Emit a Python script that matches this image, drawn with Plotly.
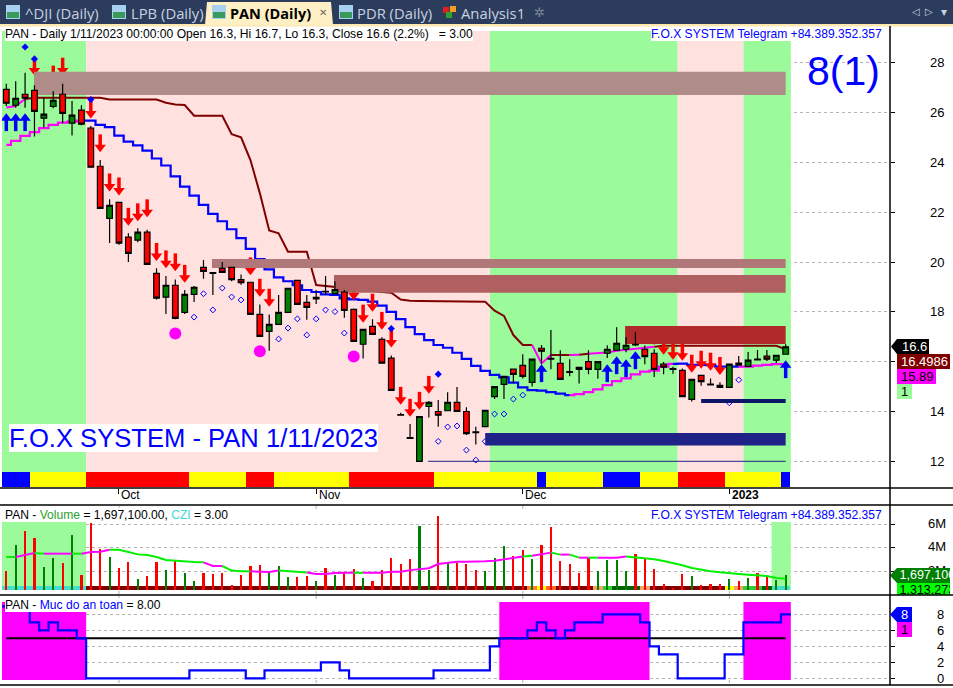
import plotly.graph_objects as go

W, H = 953, 688
n = 84
idx = list(range(n))

opens = [26.94,26.30,26.74,26.90,25.78,26.25,26.74,25.58,26.10,25.38,23.85,21.76,22.40,21.00,20.88,21.20,19.55,18.59,19.07,17.98,18.70,19.79,19.58,19.75,19.79,19.30,19.19,17.90,17.22,17.50,17.98,19.27,18.38,18.52,18.83,18.73,18.80,18.10,16.70,17.42,16.90,16.14,13.88,12.95,12.00,14.20,14.00,14.03,14.37,14.00,13.18,13.39,14.60,15.09,15.70,15.85,15.17,16.54,16.13,15.93,15.60,15.77,16.00,15.69,16.34,16.46,16.50,16.70,16.50,16.34,15.90,15.72,15.65,14.49,15.45,15.10,15.05,14.97,15.94,15.81,16.10,16.22,16.06,16.30]
highs = [27.16,27.26,27.60,27.10,26.60,26.86,27.16,26.47,26.30,25.47,24.10,22.52,22.40,21.16,21.36,21.30,19.75,19.44,19.30,18.88,19.04,20.08,19.58,20.00,19.79,19.50,19.19,18.30,17.90,18.68,18.95,19.27,18.68,18.88,19.44,19.23,18.88,18.14,17.30,17.70,16.98,16.25,13.95,13.50,13.80,14.42,14.46,14.77,14.98,14.17,13.39,14.05,15.00,15.41,15.70,16.30,16.10,16.67,17.27,16.46,16.10,15.77,16.46,16.00,16.66,17.38,16.98,17.18,16.65,16.50,15.99,15.80,15.73,15.29,15.45,15.33,15.17,15.90,16.23,16.39,16.47,16.47,16.26,16.70]
lows = [26.27,26.20,26.20,25.04,25.40,26.18,25.58,25.08,25.50,23.80,22.15,20.77,20.70,20.00,20.80,19.90,18.50,17.92,17.70,17.92,18.40,19.33,18.68,19.59,19.23,19.09,17.90,17.00,16.44,17.50,17.98,18.30,17.68,18.32,18.68,18.73,17.77,16.80,16.13,17.10,15.94,14.85,13.85,12.92,12.00,13.76,13.39,14.03,14.00,13.06,12.67,13.39,14.50,14.50,15.13,15.33,15.00,15.93,15.70,15.29,15.42,15.12,15.50,15.32,16.15,16.46,16.38,16.63,15.90,15.39,15.50,15.52,14.60,14.40,15.03,15.07,14.97,14.97,15.86,15.81,16.07,16.03,15.94,16.30]
closes = [26.38,26.58,26.58,26.05,25.94,26.50,25.97,25.90,25.54,23.81,22.16,22.28,20.76,20.35,21.20,19.91,18.55,19.07,17.74,18.70,18.99,19.63,19.55,19.59,19.30,19.17,17.90,17.02,17.50,17.98,18.95,18.30,18.18,18.58,18.80,18.90,18.06,16.82,17.30,17.10,15.94,14.85,13.85,12.92,13.80,14.37,13.85,14.37,14.00,13.11,13.15,14.05,15.00,15.41,15.49,15.41,16.10,16.42,16.10,15.29,15.57,15.69,15.69,16.00,16.50,16.74,16.66,16.67,16.20,15.69,15.78,15.69,14.60,15.29,15.20,15.07,14.97,15.90,15.86,16.06,16.07,16.10,16.26,16.60]

trail_lower = [24.71,24.87,25.07,25.22,25.38,25.51,25.60,25.64,25.68,25.68,25.51,25.42,25.08,24.84,24.69,24.48,24.16,23.88,23.44,23.03,22.67,22.30,21.94,21.64,21.32,20.96,20.53,20.12,19.71,19.39,19.23,19.07,18.88,18.80,18.70,18.68,18.54,18.50,18.48,18.41,18.25,18.00,17.71,17.39,17.11,16.87,16.67,16.56,16.36,16.11,15.83,15.63,15.47,15.37,15.16,14.97,14.86,14.84,14.78,14.72,14.66,14.70,14.78,14.89,15.06,15.22,15.33,15.49,15.60,15.64,15.80,15.91,15.92,15.87,15.87,15.86,15.80,15.80,15.80,15.80,15.84,15.87,15.90,15.89]
lower_magenta = [i <= 8 or 61 <= i <= 71 or i >= 79 for i in idx]

trail_upper = [26.21,26.27,26.55,26.60,26.60,26.60,26.60,26.60,26.60,26.60,26.60,26.53,26.53,26.53,26.53,26.53,26.53,26.40,26.33,26.31,25.88,25.88,25.88,25.88,25.14,25.01,24.10,22.77,21.27,21.16,20.42,20.42,20.42,19.08,19.04,19.01,18.98,18.95,18.90,18.85,18.80,18.77,18.50,18.45,18.44,18.44,18.44,18.44,18.44,18.41,18.41,18.41,18.05,17.84,17.07,16.67,16.67,15.93,16.27,16.27,16.27,16.28,16.32,16.33,16.37,16.44,16.49,16.54,16.56,16.60,16.64,16.64,16.64,16.64,16.64,16.64,16.64,16.64,16.64,16.64,16.64,16.64,16.64,16.50]
upper_magenta = [i in (1, 2, 57, 58, 61, 63, 64, 65, 66, 67, 68, 69) for i in idx]

down_x = [3,5,6,9,10,11,12,13,14,15,16,17,18,19,26,27,28,37,38,39,40,41,42,43,44,45,69,70,71,72,73,74,75,76]
down_tip = [27.52,27.20,27.52,25.80,24.44,22.87,22.71,21.49,21.67,21.83,20.08,19.78,19.66,19.20,19.50,18.64,18.24,18.50,17.60,18.04,17.31,16.60,14.30,13.82,14.10,14.74,16.70,16.31,16.11,16.07,15.59,15.75,15.67,15.50]
up_x = [0,1,2,57,64,65,66,67,83]
up_tip = [25.95,25.95,25.95,15.87,15.87,16.19,16.07,16.39,16.03]
solid_x = [2,3,9,41,46]
solid_y = [28.64,28.16,26.53,17.33,15.50]
hollow_x = [20,21,22,23,24,25,29,30,31,32,33,34,35,36,46,47,48,49,50,51,52,53,54,55,77,78]
hollow_y = [17.79,18.73,18.08,18.96,18.60,18.48,16.91,17.35,17.72,17.07,17.72,18.08,18.01,17.15,12.80,13.38,13.42,12.45,12.05,12.80,13.90,13.90,14.50,14.66,14.35,15.27]
dot_x = [18,27,37]
dot_y = [17.13,16.42,16.21]

zone_start = [2.95,21.9,34.9,65.9,51.0,74.0]
zone_end = [83.0,83.0,83.0,83.0,83.0,83.0]
zone_low = [26.71,19.76,18.77,16.71,12.63,14.34]
zone_high = [27.64,20.12,19.48,17.43,13.14,14.50]
zone_color = ["#b08c88","#b07878","#b06060","#b02a2a","#1f2388","#0d1566"]
floor_start, floor_level = 44.9, 12.0

band_edges = [-0.46,8.5,51.5,71.5,78.5,83.55]
band_color = ["#9bfb9b","#ffe2df","#9bfb9b","#ffe2df","#9bfb9b"]

strip_runs = [("#0000ff",3),("#ffff00",6),("#ff0000",11),("#ffff00",6),("#ff0000",3),("#ffff00",8),("#ff0000",9),("#ffff00",11),("#0000ff",1),("#ffff00",6),("#0000ff",4),("#ffff00",4),("#ff0000",5),("#ffff00",6),("#0000ff",1)]
strip_color = [c for c, k in strip_runs for _ in range(k)]

volume = [2.03,4.24,5.43,4.83,2.36,3.13,2.71,5.09,1.69,6.11,3.90,3.22,2.28,2.79,1.34,1.60,2.79,2.11,2.88,1.86,1.18,1.86,1.77,1.86,0.84,1.69,2.45,2.54,2.03,2.45,1.51,1.51,1.60,1.18,2.28,1.69,1.94,2.20,1.43,1.18,2.11,3.13,2.62,3.04,5.85,2.11,6.70,2.71,2.71,2.62,2.11,2.03,3.13,4.15,3.30,3.81,3.04,4.24,5.77,2.88,2.62,1.86,3.13,2.03,2.96,2.96,2.03,3.47,3.13,2.20,0.93,0.57,1.77,1.60,0.84,0.93,0.93,1.34,1.18,1.43,1.86,1.51,1.26,1.70]
vol_ma = [3.22,3.22,3.37,3.56,3.50,3.50,3.50,3.50,3.50,3.64,3.67,3.84,3.84,3.64,3.44,3.38,3.22,2.97,2.90,2.82,2.79,2.76,2.45,2.45,2.06,2.00,2.00,1.97,1.94,2.06,2.00,1.94,1.89,1.77,1.77,1.86,1.87,1.87,1.87,1.87,1.87,1.97,1.97,2.10,2.20,2.26,2.62,2.74,2.82,2.82,2.82,2.85,2.90,3.02,3.19,3.25,3.33,3.44,3.59,3.42,3.42,3.16,3.16,3.16,3.16,3.16,3.25,3.19,3.08,3.02,2.88,2.71,2.51,2.28,2.11,2.00,1.91,1.82,1.77,1.71,1.65,1.60,1.43,1.37]
vol_ma_magenta = [i in (2,3,5,6,7,9,10,11,22,23,27,28,29,33,34,35,36,37,39,40,41,42,43,44,45,46,47,48,49,50,51,52,53,54,55,57,58,60,62,64,65,66) for i in idx]
czi_runs = [("#40e0d0",9),("#800000",47),("#ff7f27",1),("#ffff00",1),("#ff6a20",1),("#800000",4),("#f4a460",1),("#32cd32",1),("#006400",3),("#f4a460",1),("#800000",8),("#ffff00",1),("#f4a460",1),("#32cd32",2),("#006400",1),("#40e0d0",2)]
czi_color = [c for c, k in czi_runs for _ in range(k)]
vol_band_edges = [(-0.46,8.5),(81.5,83.55)]

safety = [9,9,9,7,6,7,6,6,5,0,0,0,0,0,0,0,0,0,0,0,1,1,1,1,1,1,0,0,1,1,1,1,1,1,2,2,1,0,0,0,0,0,0,0,0,0,1,1,1,1,1,1,4,5,5,5,6,7,6,5,6,7,7,7,8,8,8,8,7,4,3,3,0,0,0,0,0,3,3,7,7,7,7,8]
safety_bands = [(-0.46,8.5),(52.5,68.5),(78.5,83.55)]
safe_level = 5

month_idx = [12,33,55,77]
month_text = ["Oct","Nov","Dec","<b>2023</b>"]
price_ticks = [12,14,16,18,20,22,24,26,28]
price_labels = [12,14,18,20,22,24,26,28]
vol_ticks = [2,4,6]
safe_ticks = [0,2,4,6,8]
BLUE, MAG, MAROON = "#0000ff", "#ff00ff", "#800000"
FONT = "Liberation Sans"

def px(x): return x / W
def py(y): return 1 - y / H
def price_at(y): return 12 + (461.3 - y) / 24.9
def vol_at(y): return (594.8 - y) / 11.75
def safe_at(y): return (678.3 - y) / 8
def bar_at(x): return (x - 6.3) / 9.39

def split(values, flags, want):
    xs, ys = [], []
    for i in range(len(values) - 1):
        if flags[i + 1] == want:
            if xs and xs[-1] == i:
                xs.append(i + 1); ys.append(values[i + 1])
            else:
                if xs:
                    xs.append(None); ys.append(None)
                xs += [i, i + 1]; ys += [values[i], values[i + 1]]
    return xs, ys

fig = go.Figure()
shapes, anns = [], []

# price pane: regime bands
for i, c in enumerate(band_color):
    shapes.append(dict(type="rect", xref="x", yref="y", layer="between", x0=band_edges[i], x1=band_edges[i + 1],
                       y0=price_at(472), y1=price_at(31), fillcolor=c, line_width=0))
fig.add_bar(x=idx, y=[price_at(472) - price_at(487)] * n, base=[price_at(487)] * n, width=1,
            marker=dict(color=strip_color, line_width=0), xaxis="x", yaxis="y", showlegend=False)

for values, flags, main, shape, w in [(trail_upper, upper_magenta, MAROON, "linear", 2), (trail_lower, lower_magenta, BLUE, "hvh", 2.2)]:
    x0, y0 = split(values, flags, False)
    fig.add_scatter(x=x0, y=y0, mode="lines", line=dict(color=main, width=w, shape=shape), xaxis="x", yaxis="y", showlegend=False)
    x1, y1 = split(values, flags, True)
    fig.add_scatter(x=x1, y=y1, mode="lines", line=dict(color=MAG, width=w, shape=shape), xaxis="x", yaxis="y", showlegend=False)

def arrows(xs, tips, color, sign):
    head = [t + sign * 0.17 for t in tips]
    stem = [t + sign * 0.38 for t in tips]
    tri = "triangle-down" if sign > 0 else "triangle-up"
    fig.add_scatter(x=xs, y=stem, mode="markers", xaxis="x", yaxis="y", showlegend=False,
                    marker=dict(symbol="line-ns", size=11, color=color, line=dict(color=color, width=3.5)))
    fig.add_scatter(x=xs, y=head, mode="markers", xaxis="x", yaxis="y", showlegend=False,
                    marker=dict(symbol=tri, size=10, color=color, line_width=0))

arrows(down_x, down_tip, "#ff0000", 1)
arrows(up_x, up_tip, BLUE, -1)
fig.add_scatter(x=solid_x, y=solid_y, mode="markers", marker=dict(symbol="diamond", size=5.5, color=BLUE, line_width=0), xaxis="x", yaxis="y", showlegend=False)
fig.add_scatter(x=hollow_x, y=hollow_y, mode="markers", marker=dict(symbol="diamond-open", size=4.5, color=BLUE, line=dict(width=1, color=BLUE)), xaxis="x", yaxis="y", showlegend=False)
fig.add_scatter(x=dot_x, y=dot_y, mode="markers", marker=dict(symbol="circle", size=12, color=MAG, line_width=0), xaxis="x", yaxis="y", showlegend=False)
fig.add_scatter(x=[44.06], y=[price_at(491)], mode="markers", cliponaxis=False, marker=dict(symbol="triangle-down", size=7, color="#ff0000", line_width=0), xaxis="x", yaxis="y", showlegend=False)

for s, e, lo, hi, c in zip(zone_start, zone_end, zone_low, zone_high, zone_color):
    fig.add_scatter(x=[s, e, e, s, s], y=[lo, lo, hi, hi, lo], mode="lines", fill="toself", fillcolor=c, line=dict(width=0, color=c),
                    xaxis="x", yaxis="y", showlegend=False)
fig.add_scatter(x=[floor_start, 83], y=[floor_level, floor_level], mode="lines", line=dict(color="#1f2388", width=1), xaxis="x", yaxis="y", showlegend=False)

fig.add_trace(go.Candlestick(x=idx, open=opens, high=highs, low=lows, close=closes, xaxis="x", yaxis="y4", showlegend=False,
                             whiskerwidth=0,
                             increasing=dict(fillcolor="#008000", line=dict(color="#000000", width=1.2)),
                             decreasing=dict(fillcolor="#ff0000", line=dict(color="#000000", width=1.2))))

# volume pane
for a, b in vol_band_edges:
    shapes.append(dict(type="rect", xref="x2", yref="y2", layer="between", x0=a, x1=b, y0=vol_at(590), y1=vol_at(521.7), fillcolor="#9bfb9b", line_width=0))
fig.add_bar(x=idx, y=[vol_at(586) - vol_at(590)] * n, base=[vol_at(590)] * n, width=1, marker=dict(color=czi_color, line_width=0), xaxis="x2", yaxis="y2", showlegend=False)
vol_color = ["#ff0000" if c < o else "#008000" for o, c in zip(opens, closes)]
fig.add_bar(x=idx, y=[v - vol_at(590) for v in volume], base=[vol_at(590)] * n, width=0.23, marker=dict(color=vol_color, line_width=0), xaxis="x2", yaxis="y2", showlegend=False)
x0, y0 = split(vol_ma, vol_ma_magenta, False)
fig.add_scatter(x=x0, y=y0, mode="lines", line=dict(color="#00f000", width=2), xaxis="x2", yaxis="y2", showlegend=False)
x1, y1 = split(vol_ma, vol_ma_magenta, True)
fig.add_scatter(x=x1, y=y1, mode="lines", line=dict(color=MAG, width=2), xaxis="x2", yaxis="y2", showlegend=False)

# safety pane
for a, b in safety_bands:
    shapes.append(dict(type="rect", xref="x3", yref="y3", layer="between", x0=a, x1=b, y0=safe_at(680), y1=safe_at(602), fillcolor=MAG, line_width=0))
fig.add_scatter(x=[0, 83], y=[safe_level, safe_level], mode="lines", line=dict(color="#000000", width=2), xaxis="x3", yaxis="y3", showlegend=False)
fig.add_scatter(x=[-0.46] + idx + [83.55], y=[safety[0]] + safety + [safety[-1]], mode="lines", line=dict(color=BLUE, width=2.2, shape="hvh"), xaxis="x3", yaxis="y3", showlegend=False)

# right-hand tag strip of the volume pane (clipped like the original)
fig.add_scatter(x=[56] * len(vol_ticks), y=vol_ticks, mode="text", text=[f"{t}M" for t in vol_ticks], textposition="middle left",
                textfont=dict(family=FONT, size=13, color="#000000"), xaxis="x5", yaxis="y5", showlegend=False)
fig.add_scatter(x=[0, 7, 60, 60, 7, 0], y=[vol_at(575.5), vol_at(568), vol_at(568), vol_at(583), vol_at(583), vol_at(575.5)], mode="lines", fill="toself",
                fillcolor="#008000", line=dict(width=0, color="#008000"), xaxis="x5", yaxis="y5", showlegend=False)
fig.add_scatter(x=[7, 60, 60, 7, 7], y=[vol_at(583), vol_at(583), vol_at(596), vol_at(596), vol_at(583)], mode="lines", fill="toself",
                fillcolor="#00ff00", line=dict(width=0, color="#00ff00"), xaxis="x5", yaxis="y5", showlegend=False)
fig.add_scatter(x=[9.5, 9.5], y=[vol_at(575.5), vol_at(590.5)], mode="text", text=["1,697,100", "1,313,273"], textposition="middle right",
                textfont=dict(family=FONT, size=12.5, color=["#ffffff", "#000000"]), xaxis="x5", yaxis="y5", showlegend=False)

def rect(x0, y0, x1, y1, color, layer="above"):
    shapes.append(dict(type="rect", xref="paper", yref="paper", x0=px(x0), x1=px(x1), y0=py(y0), y1=py(y1), fillcolor=color, line_width=0, layer=layer))

def line(x0, y0, x1, y1, color="#000000", w=1.5, dash=None):
    shapes.append(dict(type="line", xref="paper", yref="paper", x0=px(x0), x1=px(x1), y0=py(y0), y1=py(y1), line=dict(color=color, width=w, dash=dash)))

def tag(x0, xb, x1, y0, y1, color):
    m = (y0 + y1) / 2
    path = f"M {px(x0)} {py(m)} L {px(xb)} {py(y0)} L {px(x1)} {py(y0)} L {px(x1)} {py(y1)} L {px(xb)} {py(y1)} Z"
    shapes.append(dict(type="path", xref="paper", yref="paper", path=path, fillcolor=color, line_width=0))

def text(t, x, y, size=12.1, color="#000000", bg=None, anchor="left", family=FONT):
    anns.append(dict(text=t, xref="paper", yref="paper", x=px(x), y=py(y), xanchor=anchor, yanchor="middle", showarrow=False,
                     font=dict(family=family, size=size, color=color), bgcolor=bg, borderpad=0, borderwidth=0))

# tab bar
rect(0, 0, W, 24, "#2c3c5c")
rect(0, 24, W, 26.5, "#ffe8b0")
shapes.append(dict(type="path", xref="paper", yref="paper", fillcolor="#ffefc4", line_width=0,
                   path=f"M {px(205)} {py(25)} L {px(207)} {py(2)} L {px(331)} {py(2)} L {px(333)} {py(25)} Z"))
for ix in [6, 112, 212, 339]:
    rect(ix, 5, ix + 14, 19, "#a8d0f0")
    rect(ix + 1, 12, ix + 13, 18, "#3a9a5a")
tab_font = "Open Sans"
for t, x in [("^DJI (Daily)", 25), ("LPB (Daily)", 131), ("PDR (Daily)", 357), ("Analysis1", 461)]:
    text(t, x, 13, 14.8, "#c8d2e0", family=tab_font)
text("<b>PAN (Daily)</b>", 230, 13, 14.5, "#000000", family=tab_font)
text("✕", 323, 12, 10, "#6a6a60", anchor="center", family="DejaVu Sans")
text("✲", 539, 12, 13, "#7f8a9c", anchor="center", family="DejaVu Sans")
text("◁", 916, 11, 10, "#c8d2e0", anchor="center", family="DejaVu Sans")
text("▷", 929, 11, 10, "#c8d2e0", anchor="center", family="DejaVu Sans")
text("▾", 944, 12, 12, "#c8d2e0", anchor="center", family="DejaVu Sans")
for cx, cy, c in [(446, 10, "#e02020"), (453, 9, "#f0a020"), (449, 15, "#30a030")]:
    rect(cx - 3, cy - 3, cx + 3, cy + 3, c)

# frames
for y in (488, 505, 595, 685):
    line(0, y, W, y)
line(890, 26, 890, 685)
for m in month_idx:
    xm = 6.3 + 9.39 * m
    for a, b in ((591, 595), (596, 601), (680, 685), (506, 512)):
        line(xm, a, xm, b, "#b0b0b0", 1, "dot")

# pane captions
text("PAN - Daily 1/11/2023 00:00:00 Open 16.3, Hi 16.7, Lo 16.3, Close 16.6 (2.2%)&nbsp;&nbsp;&nbsp;= 3.00", 5, 33.5, bg="#ffffff")
tele = "F.O.X SYSTEM Telegram +84.389.352.357"
text(tele, 651, 33.5, color=BLUE, bg="#ffffff")
text(tele, 651, 514.5, color=BLUE, bg="#ffffff")
text('PAN - <span style="color:#2ca02c">Volume</span> = 1,697,100.00, <span style="color:#40d8d8">CZI</span> = 3.00', 5, 514.5, bg="#ffffff")
text('PAN - <span style="color:#0000ff">Muc do an toan</span> = 8.00', 5, 605, bg="#ffffff")
text("F.O.X SYSTEM - PAN 1/11/2023", 9, 438, 25.6, BLUE, "#ffffff")
text("8(1)", 807, 71, 41, BLUE)

# month labels
for m, t in zip(month_idx, month_text):
    anns.append(dict(text=t, xref="x", yref="paper", x=m + 0.05, y=py(495), xanchor="left", yanchor="middle", showarrow=False, font=dict(family=FONT, size=12, color="#000000")))

# axis labels
for t in price_labels:
    anns.append(dict(text=str(t), xref="paper", yref="y", x=px(946), y=t, xanchor="right", yanchor="middle", showarrow=False, font=dict(family=FONT, size=13, color="#000000")))
for t in safe_ticks:
    anns.append(dict(text=str(t), xref="paper", yref="y3", x=px(946), y=t, xanchor="right", yanchor="middle", showarrow=False, font=dict(family=FONT, size=13, color="#000000")))

# value tags
tag(891, 897, 929, 339, 354, "#000000")
rect(897, 354, 950, 369, MAROON)
rect(897, 369, 936, 384, MAG)
rect(897, 384, 912, 399, "#9bfb9b")
text("16.6", 902, 346.5, 13, "#ffffff")
text("16.4986", 901, 361.5, 13, "#ffffff")
text("15.89", 901, 376.5, 13, "#000000")
text("1", 901, 391.5, 13, "#000000")
tag(890, 897, 912, 607, 622, BLUE)
rect(897, 622, 912, 637, MAG)
text("8", 901, 614.5, 13, "#ffffff")
text("1", 901, 629.5, 13, "#000000")

xr = [bar_at(2), bar_at(890)]
grid = dict(showgrid=True, griddash="dot", gridcolor="#b4b4b4", gridwidth=1, zeroline=False, showline=False,
            ticks="outside", ticklen=4, tickcolor="#000000", tickwidth=1, showticklabels=False, side="right", fixedrange=True)
xbase = dict(domain=[px(2), px(890)], range=xr, showgrid=False, zeroline=False, showline=False, showticklabels=False, fixedrange=True, rangeslider=dict(visible=False))
fig.update_layout(
    width=W, height=H, autosize=False, margin=dict(l=0, r=0, t=0, b=0), paper_bgcolor="#ffffff", plot_bgcolor="#ffffff",
    barmode="overlay", bargap=0, boxgap=0.2, boxgroupgap=0.25, showlegend=False, hovermode=False,
    xaxis=dict(xbase, anchor="y", ticks="outside", ticklen=5, tickcolor="#000000", tickvals=month_idx),
    xaxis2=dict(xbase, anchor="y2", ticks=""),
    xaxis3=dict(xbase, anchor="y3", ticks=""),
    xaxis5=dict(domain=[px(890), px(950)], range=[0, 60], visible=False, anchor="y5", fixedrange=True),
    yaxis=dict(grid, domain=[py(488), py(26)], range=[price_at(488), price_at(26)], tickvals=price_ticks, anchor="x"),
    yaxis4=dict(domain=[py(488), py(26)], range=[price_at(488), price_at(26)], overlaying="y", visible=False, anchor="x", fixedrange=True),
    yaxis2=dict(grid, domain=[py(595), py(505)], range=[vol_at(595), vol_at(505)], tickvals=vol_ticks, anchor="x2"),
    yaxis3=dict(grid, domain=[py(685), py(595)], range=[safe_at(685), safe_at(595)], tickvals=safe_ticks, anchor="x3"),
    yaxis5=dict(domain=[py(595), py(505)], range=[vol_at(595), vol_at(505)], visible=False, anchor="x5", fixedrange=True),
    shapes=shapes, annotations=anns,
)
fig.write_html("out.html", config=dict(displayModeBar=False), post_script="document.body.style.margin='0';document.body.style.overflow='hidden';")
